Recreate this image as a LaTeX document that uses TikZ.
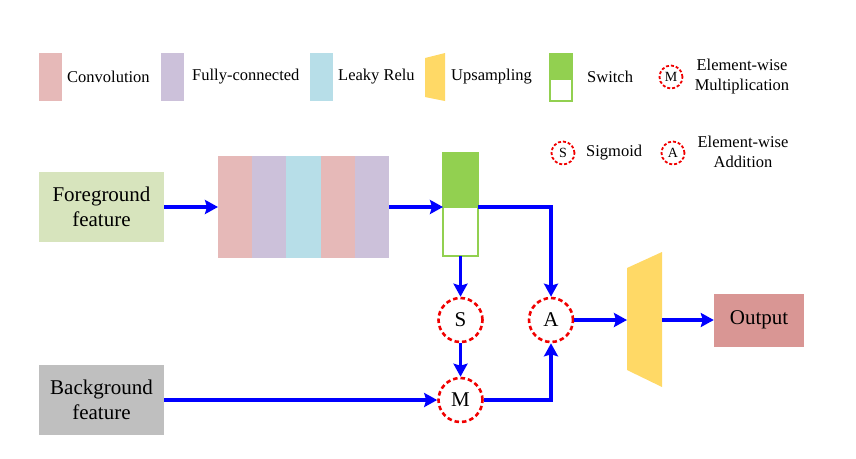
\documentclass[tikz,border=0pt]{standalone}
\usepackage{fontspec}
\setmainfont{Liberation Serif}[Ligatures=TeX]
\usetikzlibrary{arrows.meta}
\definecolor{convc}{HTML}{E6B9B8}
\definecolor{fcc}{HTML}{CCC1DA}
\definecolor{lrc}{HTML}{B7DEE8}
\definecolor{upc}{HTML}{FFD966}
\definecolor{swc}{HTML}{92D050}
\definecolor{fgc}{HTML}{D7E4BD}
\definecolor{bgc}{HTML}{BFBFBF}
\definecolor{outc}{HTML}{D99694}
\definecolor{arrc}{RGB}{0,0,255}
\definecolor{opc}{RGB}{240,0,0}
\begin{document}
\begin{tikzpicture}[x=1pt,y=-1pt,
  blk/.style={draw=none,inner sep=0pt,outer sep=0pt,anchor=north west},
  big/.style={font=\rmfamily\fontsize{21}{25}\selectfont},
  small/.style={font=\rmfamily\fontsize{16.5}{20}\selectfont},
  arr/.style={draw=arrc,line width=3.6pt,-{Stealth[length=13pt,width=14pt,inset=2pt]}},
  op/.style={circle,draw=opc,line width=2.6pt,dash pattern=on 4.5pt off 3pt,minimum size=44pt,inner sep=0pt,fill=white,big},
  lop/.style={circle,draw=opc,line width=1.8pt,dash pattern=on 3pt off 2pt,minimum size=23pt,inner sep=0pt,fill=white,font=\rmfamily\fontsize{14}{16}\selectfont},
  lbl/.style={anchor=west,inner sep=0pt,small},
  box/.style={inner sep=0pt,align=center,big}
]
\useasboundingbox (0,0) rectangle (856,458);

% ---------- legend ----------
\node[blk,fill=convc,minimum width=23pt,minimum height=48pt] (lconv) at (39,53) {};
\node[lbl] (tconv) at (67,77) {Convolution};
\node[blk,fill=fcc,minimum width=23pt,minimum height=48pt] (lfc) at (161,53) {};
\node[lbl] (tfc) at (192,77) {Fully-connected};
\node[blk,fill=lrc,minimum width=23pt,minimum height=48pt] (llr) at (310,53) {};
\node[lbl] (tlr) at (338,77) {Leaky Relu};
\fill[upc] (425,58) -- (445,53) -- (445,101) -- (425,97) -- cycle;
\node[lbl] (tup) at (451,77) {Upsampling};
\node[blk,fill=swc,minimum width=24pt,minimum height=25pt] (lswt) at (549,53) {};
\node[blk,draw=swc,line width=2pt,fill=white,minimum width=22pt,minimum height=22pt] (lswb) at (550,79) {};
\node[lbl] (tsw) at (587,77) {Switch};
\node[lop] (lM) at (671,77) {M};
\node[inner sep=0pt,align=center,small] (tM) at (742,77) {Element-wise\\Multiplication};
\node[lop] (lS) at (563,153) {S};
\node[lbl] (tS) at (586,153) {Sigmoid};
\node[lop] (lA) at (673,153) {A};
\node[inner sep=0pt,align=center,small] (tA) at (743,152) {Element-wise\\Addition};

% ---------- main ----------
\node[box,fill=fgc,minimum width=125pt,minimum height=70pt] (fg) at (101.5,207) {Foreground\\feature};
\node[box,fill=bgc,minimum width=125pt,minimum height=70pt] (bg) at (101.5,400) {Background\\feature};

\node[blk,fill=convc,minimum width=34.2pt,minimum height=102pt,anchor=west] (c1) at (218,207) {};
\node[blk,fill=fcc,minimum width=34.2pt,minimum height=102pt,anchor=west] (f1) at (c1.east) {};
\node[blk,fill=lrc,minimum width=34.2pt,minimum height=102pt,anchor=west] (l1) at (f1.east) {};
\node[blk,fill=convc,minimum width=34.2pt,minimum height=102pt,anchor=west] (c2) at (l1.east) {};
\node[blk,fill=fcc,minimum width=34.2pt,minimum height=102pt,anchor=west] (f2) at (c2.east) {};

\node[blk,fill=swc,minimum width=37pt,minimum height=56pt] (swt) at (442,152) {};
\node[blk,draw=swc,line width=2pt,fill=white,minimum width=35pt,minimum height=49pt] (swb) at (443,207) {};

\node[op] (S) at (460.5,320) {S};
\node[op] (A) at (551,320) {A};
\node[op] (M) at (460.5,400) {M};

\fill[upc] (627,268) -- (662,252) -- (662,387) -- (627,370) -- cycle;
\coordinate (upl) at (627,320);
\coordinate (upr) at (662,320);

\node[box,fill=outc,minimum width=90pt,minimum height=53pt] (out) at (759,320) {Output};

% ---------- connectors ----------
\draw[arr] (fg) -- (c1);
\draw[arr] (f2.east) -- (swb.north west);
\draw[arr] (swb.north east) -| (A.north);
\draw[arr] (swb.south) -- (S.north);
\draw[arr] (S) -- (M);
\draw[arr] (bg) -- (M);
\draw[arr] (M) -| (A.south);
\draw[arr] (A) -- (upl);
\draw[arr] (upr) -- (out.west);
\end{tikzpicture}
\end{document}
